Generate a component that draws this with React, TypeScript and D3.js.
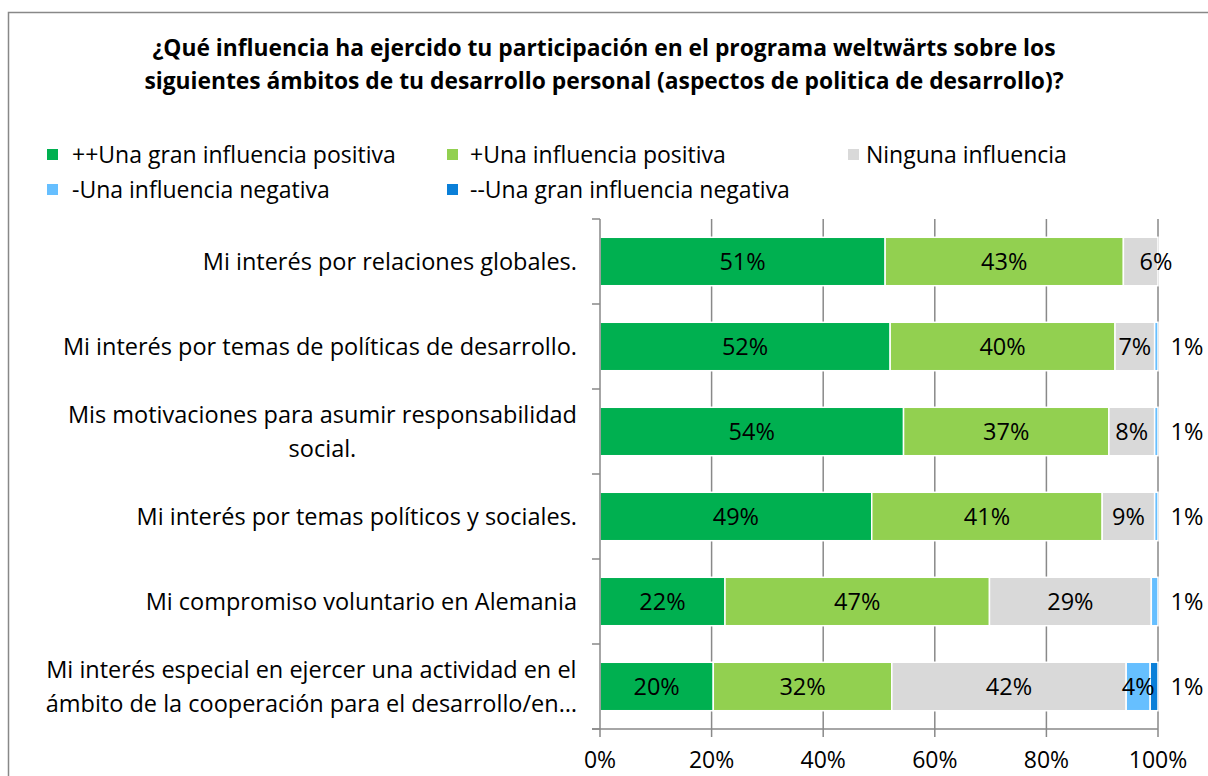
import React from "react";
import * as d3 from "d3";

const W = 1208;
const H = 776;
const FONT = "'Open Sans', 'Noto Sans', sans-serif";

const titleLines = [
  "¿Qué influencia ha ejercido tu participación en el programa weltwärts sobre los",
  "siguientes ámbitos de tu desarrollo personal (aspectos de politica de desarrollo)?",
];

const categories = [
  ["Mi interés por relaciones globales."],
  ["Mi interés por temas de políticas de desarrollo."],
  ["Mis motivaciones para asumir responsabilidad", "social."],
  ["Mi interés por temas políticos y sociales."],
  ["Mi compromiso voluntario en Alemania"],
  ["Mi interés especial en ejercer una actividad en el", "ámbito de la cooperación para el desarrollo/en…"],
];

const seriesNames = [
  "++Una gran influencia positiva",
  "+Una influencia positiva",
  "Ninguna influencia",
  "-Una influencia negativa",
  "--Una gran influencia negativa",
];
const seriesColors = ["#00B050", "#92D050", "#D9D9D9", "#66BFFF", "#0A7FD8"];

const strongPositive = [51.1, 52.0, 54.4, 48.7, 22.4, 20.3];
const positive = [42.7, 40.3, 36.8, 41.3, 47.4, 32.0];
const noInfluence = [6.2, 7.1, 8.2, 9.4, 29.0, 42.0];
const negative = [0, 0.6, 0.6, 0.6, 1.2, 4.3];
const strongNegative = [0, 0, 0, 0, 0, 1.4];

const seriesValues = [strongPositive, positive, noInfluence, negative, strongNegative];
const xTicks = [0, 20, 40, 60, 80, 100];

// label placement exceptions: [row, series]
const labelsAtSegmentEnd = [[0, 2]];

let ctx: CanvasRenderingContext2D | null = null;
function measure(text: string, size: number, weight = "normal") {
  if (!ctx) ctx = document.createElement("canvas").getContext("2d");
  if (!ctx) return text.length * size * 0.5;
  ctx.font = `${weight} ${size}px ${FONT}`;
  return ctx.measureText(text).width;
}

export default function App() {
  const left = 600;
  const right = 1158;
  const top = 219;
  const bottom = 729;
  const fs = 23.5;

  const x = d3.scaleLinear().domain([0, 100]).range([left, right]);
  const y = d3
    .scaleBand<number>()
    .domain(categories.map((_, i) => i))
    .range([top, bottom])
    .paddingInner(0.43)
    .paddingOuter(0.215);
  const band = (bottom - top) / categories.length;

  const stackData = categories.map((_, i) => {
    const row: Record<string, number> = { idx: i };
    seriesNames.forEach((s, k) => (row[s] = seriesValues[k][i]));
    return row;
  });
  const stacked = d3.stack<Record<string, number>>().keys(seriesNames)(stackData);

  const legendCols = [47, 447, 848];
  const legendTextX = [72, 470, 866];
  const legendRows = [155, 190];

  return (
    <svg
      width={W}
      height={H}
      style={{ position: "absolute", left: 0, top: 0, display: "block", background: "#fff" }}
      fontFamily={FONT}
    >
      <rect x={8.5} y={12.5} width={W + 20} height={H + 20} fill="#fff" stroke="#888" strokeWidth={1.5} />
      {titleLines.map((t, i) => (
        <text key={i} x={604} y={48 + i * 33} dy="0.35em" textAnchor="middle" fontSize={22.8} fontWeight="bold" fill="#000">
          {t}
        </text>
      ))}
      {seriesNames.map((s, k) => {
        const col = k < 3 ? k : k - 3;
        const row = k < 3 ? 0 : 1;
        return (
          <g key={s}>
            <rect x={legendCols[col]} y={legendRows[row] - 6} width={11} height={11} fill={seriesColors[k]} />
            <text x={legendTextX[col]} y={legendRows[row]} dy="0.35em" fontSize={fs - 0.5} fill="#000">
              {s}
            </text>
          </g>
        );
      })}
      {/* gridlines */}
      {xTicks.slice(1).map((t) => (
        <line key={t} x1={x(t)} x2={x(t)} y1={top} y2={bottom} stroke="#898989" strokeWidth={1.5} />
      ))}
      {/* bars */}
      {stacked.map((layer, k) =>
        layer.map((d, i) => {
          const w = x(d[1]) - x(d[0]);
          if (w <= 0) return null;
          return (
            <rect
              key={`${k}-${i}`}
              x={x(d[0])}
              y={y(i)}
              width={w}
              height={y.bandwidth()}
              fill={seriesColors[k]}
              stroke="#fff"
              strokeWidth={1.5}
            />
          );
        })
      )}
      {/* axes */}
      <line x1={left} x2={left} y1={top} y2={bottom} stroke="#898989" strokeWidth={1.5} />
      <line x1={left - 8} x2={right} y1={bottom} y2={bottom} stroke="#898989" strokeWidth={1.5} />
      {d3.range(categories.length + 1).map((i) => (
        <line key={i} x1={left - 8} x2={left} y1={top + i * band} y2={top + i * band} stroke="#898989" strokeWidth={1.5} />
      ))}
      {xTicks.map((t) => (
        <g key={t}>
          <line x1={x(t)} x2={x(t)} y1={bottom} y2={bottom + 8} stroke="#898989" strokeWidth={1.5} />
          <text x={x(t)} y={760} dy="0.35em" textAnchor="middle" fontSize={fs - 0.5} fill="#000">
            {`${t}%`}
          </text>
        </g>
      ))}
      {/* category labels */}
      {categories.map((lines, i) => {
        const cy = (y(i) as number) + y.bandwidth() / 2;
        const widths = lines.map((l) => measure(l, fs));
        const maxW = Math.max(...widths);
        const cx = 577 - maxW / 2;
        const lh = 34;
        return lines.map((l, j) => (
          <text
            key={`${i}-${j}`}
            x={lines.length > 1 ? cx : 577}
            y={cy + (j - (lines.length - 1) / 2) * lh}
            dy="0.35em"
            textAnchor={lines.length > 1 ? "middle" : "end"}
            fontSize={fs}
            fill="#000"
          >
            {l}
          </text>
        ));
      })}
      {/* data labels */}
      {stacked.map((layer, k) =>
        layer.map((d, i) => {
          const v = d[1] - d[0];
          if (v <= 0) return null;
          const cy = (y(i) as number) + y.bandwidth() / 2;
          let lx = (x(d[0]) + x(d[1])) / 2;
          if (v < 2) lx = x(100) + 29;
          else if (labelsAtSegmentEnd.some(([r, s]) => r === i && s === k)) lx = x(d[1]) - 2;
          return (
            <text key={`l-${k}-${i}`} x={lx} y={cy} dy="0.35em" textAnchor="middle" fontSize={fs} fill="#000">
              {`${Math.round(v)}%`}
            </text>
          );
        })
      )}
    </svg>
  );
}
